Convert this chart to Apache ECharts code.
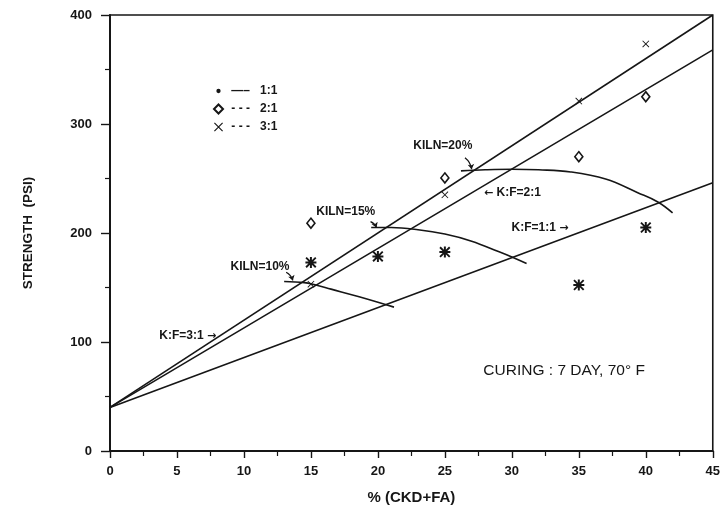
<!DOCTYPE html>
<html><head><meta charset="utf-8">
<script src="https://cdn.jsdelivr.net/npm/echarts@6/dist/echarts.min.js"></script>
<style>html,body{margin:0;padding:0;background:#fff}#c{width:723px;height:514px}</style>
</head><body><div id="c"></div>
<script>
// ---- data ----
const xTicks = [0,5,10,15,20,25,30,35,40,45];
const yTicks = [0,100,200,300,400];
const lineKF31 = [[0,40],[45,400]];
const lineKF21 = [[0,40],[45,368]];
const lineKF11 = [[0,40],[45,246]];
const kiln10 = [[13.0,155.5],[14.5,154.5],[15.3,152.5],[16.5,148.5],[18.6,141.5],[21.2,132]];
const kiln15 = [[19.5,205],[21,205],[23,203],[25,199],[27,192.5],[29,183],[30,178],[31.1,172]];
const kiln20 = [[26.2,257],[28,258],[30,258.5],[32,258],[34.4,256],[37,249.5],[39.4,237],[40.9,228.5],[42,218.5]];
const ratio11 = [[15,173],[20,178.5],[25,182.5],[35,152.3],[40,205]];
const ratio11Circle = [[20,168]];
const ratio21 = [[15,209],[25,250.5],[35,270],[40,325]];
const ratio31 = [[15,153],[25,235],[35,321],[40,373.5]];
const legendNames = ['1:1','2:1','3:1'];
const legendDashes = ['\u2014\u2013','- - -','- - -'];
const annTexts = ['KILN=10%','KILN=15%','KILN=20%','\u2190 K:F=2:1','K:F=1:1 \u2192','K:F=3:1 \u2192','CURING : 7 DAY, 70\u00B0 F'];
const annAt = [[11.2,169.5],[17.6,220],[24.85,280.5],[30.05,237],[32.1,204.5],[5.8,105.5],[33.9,73.5]];
const arrowSegs = [[[13.15,164],[13.65,156.5]],[[19.45,210.5],[19.9,205]],[[26.5,269],[27.0,258.5]]];

const FONT = "'Liberation Sans',Arial,sans-serif";
const INK = '#161616';
const asterisk = 'path://M4.1,0H5.9V10H4.1Z M0,4.1H10V5.9H0Z M1.2,0L10,8.8L8.8,10L0,1.2Z M8.8,0L10,1.2L1.2,10L0,8.8Z';
const xMark = 'path://M0.9,0L10,9.1L9.1,10L0,0.9Z M9.1,0L10,0.9L0.9,10L0,9.1Z';
const dotIcon = 'path://M0,0h0.01v0.01h-0.01Z M10,10h0.01v0.01h-0.01Z M2.6,5a2.4,2.4 0 1,0 4.8,0a2.4,2.4 0 1,0 -4.8,0Z';
const legendIcons = [dotIcon, 'diamond', xMark];

const chart = echarts.init(document.getElementById('c'), null, {renderer:'canvas'});
const lineStyle = {color: INK, width: 1.6};
function line(name, data, smooth){
  return {type:'line', name, data, symbol:'none', smooth: smooth ? 0.4 : false, lineStyle, silent:true, z:2};
}
function richArrows(t){
  return t.replace(/([\u2190\u2192])/g, '{ar|$1}');
}
const option = {
  backgroundColor:'#fff',
  animation:false,
  textStyle:{fontFamily:FONT, color:INK},
  grid:{left:110, right:8, top:15, bottom:63, show:true, borderColor:INK, borderWidth:1.6, backgroundColor:'transparent'},
  legend:{
    orient:'vertical', left:213, top:85, itemWidth:9, itemHeight:9, itemGap:6, padding:0,
    selectedMode:false,
    data: legendNames.map((n,i)=>({name:n, icon:legendIcons[i]})),
    formatter: n => ' ' + legendDashes[legendNames.indexOf(n)] + '   ' + n,
    textStyle:{fontFamily:FONT, fontWeight:'bold', fontSize:12, color:INK}
  },
  xAxis:{
    type:'value', min:xTicks[0], max:xTicks[xTicks.length-1], interval:5,
    name:'% (CKD+FA)', nameLocation:'middle', nameGap:39,
    nameTextStyle:{fontFamily:FONT, fontWeight:'bold', fontSize:15, color:INK},
    axisLine:{lineStyle:{color:INK, width:2}},
    axisTick:{length:7, lineStyle:{color:INK, width:1.4}},
    minorTick:{show:true, splitNumber:2, length:5, lineStyle:{color:INK, width:1.2}},
    splitLine:{show:false},
    axisLabel:{margin:14, fontFamily:FONT, fontWeight:'bold', fontSize:13, color:INK}
  },
  yAxis:{
    type:'value', min:yTicks[0], max:yTicks[yTicks.length-1], interval:100,
    name:'STRENGTH  (PSI)', nameLocation:'middle', nameGap:75,
    nameTextStyle:{fontFamily:FONT, fontWeight:'bold', fontSize:13.5, color:INK},
    axisLine:{lineStyle:{color:INK, width:2}},
    axisTick:{length:9, lineStyle:{color:INK, width:1.4}},
    minorTick:{show:true, splitNumber:2, length:5, lineStyle:{color:INK, width:1.2}},
    splitLine:{show:false},
    axisLabel:{margin:18, fontFamily:FONT, fontWeight:'bold', fontSize:13, color:INK}
  },
  series:[
    line('K:F=3:1', lineKF31),
    line('K:F=2:1', lineKF21),
    line('K:F=1:1', lineKF11),
    line('KILN=10%', kiln10, true),
    line('KILN=15%', kiln15, true),
    line('KILN=20%', kiln20, true),
    {type:'scatter', name:'1:1', data:ratio11, symbol:asterisk, symbolSize:11, itemStyle:{color:INK, opacity:1}, z:5},
    {type:'scatter', name:'1:1 ring', data:ratio11Circle, symbol:'emptyCircle', symbolSize:8, itemStyle:{color:'#fff', borderColor:INK, borderWidth:2.2, opacity:1}, z:5},
    {type:'scatter', name:'2:1', data:ratio21, symbol:'diamond', symbolSize:[8,10], itemStyle:{color:'#fff', borderColor:INK, borderWidth:1.6, opacity:1}, z:5},
    {type:'scatter', name:'3:1', data:ratio31, symbol:xMark, symbolSize:7, itemStyle:{color:INK, opacity:1}, z:5},
    {type:'lines', coordinateSystem:'cartesian2d', data:arrowSegs.map(c=>({coords:c})),
     symbol:['none','arrow'], symbolSize:5, lineStyle:{color:INK, width:1.3, curveness:0.2, opacity:1}, silent:true, z:4},
    {type:'scatter', name:'annotations', symbolSize:0, silent:true, z:6, itemStyle:{opacity:1},
     data: annTexts.map((t,i)=>{
       const last = i === annTexts.length-1;
       return {value:annAt[i], name:t, label: last ? {fontSize:15.5, fontWeight:'normal'} : {}};
     }),
     label:{show:true, position:'inside', formatter:p=>richArrows(p.name), fontFamily:FONT, fontWeight:'bold', fontSize:12, color:INK,
       rich:{ar:{fontFamily:"'DejaVu Sans',sans-serif", fontWeight:'bold', fontSize:11, color:INK}}}
    }
  ]
};
chart.setOption(option);
</script>
</body></html>
